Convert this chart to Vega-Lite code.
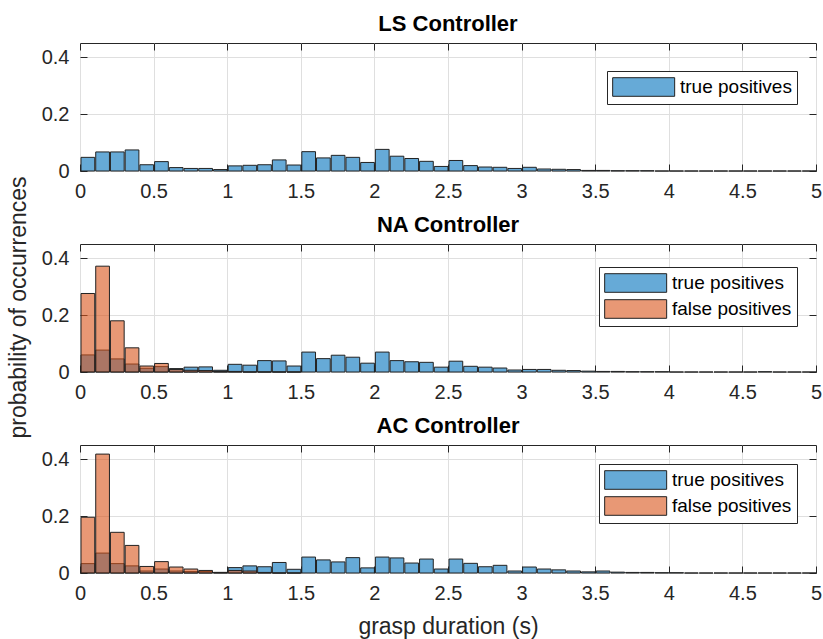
{
 "$schema": "https://vega.github.io/schema/vega-lite/v6.json",
 "padding": {"left": 6, "top": 12, "right": 5, "bottom": 5},
 "spacing": 73,
 "bounds": "flush",
 "datasets": {
  "ls_t": [
   {"b":0,"e":0.1,"v":0.048},{"b":0.1,"e":0.2,"v":0.067},{"b":0.2,"e":0.3,"v":0.067},{"b":0.3,"e":0.4,"v":0.074},{"b":0.4,"e":0.5,"v":0.022},
   {"b":0.5,"e":0.6,"v":0.033},{"b":0.6,"e":0.7,"v":0.012},{"b":0.7,"e":0.8,"v":0.009},{"b":0.8,"e":0.9,"v":0.009},{"b":0.9,"e":1,"v":0.005},
   {"b":1,"e":1.1,"v":0.018},{"b":1.1,"e":1.2,"v":0.020},{"b":1.2,"e":1.3,"v":0.022},{"b":1.3,"e":1.4,"v":0.039},{"b":1.4,"e":1.5,"v":0.021},
   {"b":1.5,"e":1.6,"v":0.068},{"b":1.6,"e":1.7,"v":0.046},{"b":1.7,"e":1.8,"v":0.055},{"b":1.8,"e":1.9,"v":0.048},{"b":1.9,"e":2,"v":0.030},
   {"b":2,"e":2.1,"v":0.076},{"b":2.1,"e":2.2,"v":0.052},{"b":2.2,"e":2.3,"v":0.044},{"b":2.3,"e":2.4,"v":0.034},{"b":2.4,"e":2.5,"v":0.016},
   {"b":2.5,"e":2.6,"v":0.037},{"b":2.6,"e":2.7,"v":0.019},{"b":2.7,"e":2.8,"v":0.014},{"b":2.8,"e":2.9,"v":0.013},{"b":2.9,"e":3,"v":0.009},
   {"b":3,"e":3.1,"v":0.013},{"b":3.1,"e":3.2,"v":0.007},{"b":3.2,"e":3.3,"v":0.006},{"b":3.3,"e":3.4,"v":0.005},{"b":3.4,"e":3.5,"v":0.002},
   {"b":3.5,"e":3.6,"v":0.002},{"b":3.6,"e":3.7,"v":0.001},{"b":3.7,"e":3.8,"v":0.001},{"b":3.8,"e":3.9,"v":0.001},{"b":3.9,"e":4,"v":0},
   {"b":4,"e":4.1,"v":0},{"b":4.1,"e":4.2,"v":0},{"b":4.2,"e":4.3,"v":0},{"b":4.3,"e":4.4,"v":0},{"b":4.4,"e":4.5,"v":0},
   {"b":4.5,"e":4.6,"v":0},{"b":4.6,"e":4.7,"v":0},{"b":4.7,"e":4.8,"v":0},{"b":4.8,"e":4.9,"v":0},{"b":4.9,"e":5,"v":0}
  ],
  "na_t": [
   {"b":0,"e":0.1,"v":0.060},{"b":0.1,"e":0.2,"v":0.077},{"b":0.2,"e":0.3,"v":0.046},{"b":0.3,"e":0.4,"v":0.028},{"b":0.4,"e":0.5,"v":0.013},
   {"b":0.5,"e":0.6,"v":0.019},{"b":0.6,"e":0.7,"v":0.012},{"b":0.7,"e":0.8,"v":0.017},{"b":0.8,"e":0.9,"v":0.018},{"b":0.9,"e":1,"v":0.006},
   {"b":1,"e":1.1,"v":0.027},{"b":1.1,"e":1.2,"v":0.024},{"b":1.2,"e":1.3,"v":0.040},{"b":1.3,"e":1.4,"v":0.039},{"b":1.4,"e":1.5,"v":0.021},
   {"b":1.5,"e":1.6,"v":0.070},{"b":1.6,"e":1.7,"v":0.047},{"b":1.7,"e":1.8,"v":0.059},{"b":1.8,"e":1.9,"v":0.052},{"b":1.9,"e":2,"v":0.031},
   {"b":2,"e":2.1,"v":0.070},{"b":2.1,"e":2.2,"v":0.040},{"b":2.2,"e":2.3,"v":0.036},{"b":2.3,"e":2.4,"v":0.034},{"b":2.4,"e":2.5,"v":0.017},
   {"b":2.5,"e":2.6,"v":0.038},{"b":2.6,"e":2.7,"v":0.020},{"b":2.7,"e":2.8,"v":0.017},{"b":2.8,"e":2.9,"v":0.014},{"b":2.9,"e":3,"v":0.007},
   {"b":3,"e":3.1,"v":0.009},{"b":3.1,"e":3.2,"v":0.009},{"b":3.2,"e":3.3,"v":0.006},{"b":3.3,"e":3.4,"v":0.005},{"b":3.4,"e":3.5,"v":0.003},
   {"b":3.5,"e":3.6,"v":0.002},{"b":3.6,"e":3.7,"v":0.002},{"b":3.7,"e":3.8,"v":0.001},{"b":3.8,"e":3.9,"v":0.001},{"b":3.9,"e":4,"v":0.001},
   {"b":4,"e":4.1,"v":0},{"b":4.1,"e":4.2,"v":0},{"b":4.2,"e":4.3,"v":0},{"b":4.3,"e":4.4,"v":0},{"b":4.4,"e":4.5,"v":0},
   {"b":4.5,"e":4.6,"v":0},{"b":4.6,"e":4.7,"v":0.001},{"b":4.7,"e":4.8,"v":0},{"b":4.8,"e":4.9,"v":0},{"b":4.9,"e":5,"v":0}
  ],
  "na_f": [
   {"b":0,"e":0.1,"v":0.276},{"b":0.1,"e":0.2,"v":0.372},{"b":0.2,"e":0.3,"v":0.180},{"b":0.3,"e":0.4,"v":0.085},{"b":0.4,"e":0.5,"v":0.021},
   {"b":0.5,"e":0.6,"v":0.030},{"b":0.6,"e":0.7,"v":0.009},{"b":0.7,"e":0.8,"v":0.006},{"b":0.8,"e":0.9,"v":0.005},{"b":0.9,"e":1,"v":0.002},
   {"b":1,"e":1.1,"v":0.002},{"b":1.1,"e":1.2,"v":0},{"b":1.2,"e":1.3,"v":0},{"b":1.3,"e":1.4,"v":0},{"b":1.4,"e":1.5,"v":0}
  ],
  "ac_t": [
   {"b":0,"e":0.1,"v":0.033},{"b":0.1,"e":0.2,"v":0.070},{"b":0.2,"e":0.3,"v":0.033},{"b":0.3,"e":0.4,"v":0.025},{"b":0.4,"e":0.5,"v":0.007},
   {"b":0.5,"e":0.6,"v":0.014},{"b":0.6,"e":0.7,"v":0.007},{"b":0.7,"e":0.8,"v":0.005},{"b":0.8,"e":0.9,"v":0.005},{"b":0.9,"e":1,"v":0.002},
   {"b":1,"e":1.1,"v":0.019},{"b":1.1,"e":1.2,"v":0.025},{"b":1.2,"e":1.3,"v":0.022},{"b":1.3,"e":1.4,"v":0.037},{"b":1.4,"e":1.5,"v":0.013},
   {"b":1.5,"e":1.6,"v":0.056},{"b":1.6,"e":1.7,"v":0.046},{"b":1.7,"e":1.8,"v":0.039},{"b":1.8,"e":1.9,"v":0.054},{"b":1.9,"e":2,"v":0.018},
   {"b":2,"e":2.1,"v":0.056},{"b":2.1,"e":2.2,"v":0.053},{"b":2.2,"e":2.3,"v":0.035},{"b":2.3,"e":2.4,"v":0.049},{"b":2.4,"e":2.5,"v":0.014},
   {"b":2.5,"e":2.6,"v":0.049},{"b":2.6,"e":2.7,"v":0.034},{"b":2.7,"e":2.8,"v":0.022},{"b":2.8,"e":2.9,"v":0.027},{"b":2.9,"e":3,"v":0.007},
   {"b":3,"e":3.1,"v":0.021},{"b":3.1,"e":3.2,"v":0.014},{"b":3.2,"e":3.3,"v":0.011},{"b":3.3,"e":3.4,"v":0.007},{"b":3.4,"e":3.5,"v":0.004},
   {"b":3.5,"e":3.6,"v":0.007},{"b":3.6,"e":3.7,"v":0.003},{"b":3.7,"e":3.8,"v":0.002},{"b":3.8,"e":3.9,"v":0.002},{"b":3.9,"e":4,"v":0.001},
   {"b":4,"e":4.1,"v":0.001},{"b":4.1,"e":4.2,"v":0},{"b":4.2,"e":4.3,"v":0},{"b":4.3,"e":4.4,"v":0},{"b":4.4,"e":4.5,"v":0},
   {"b":4.5,"e":4.6,"v":0},{"b":4.6,"e":4.7,"v":0},{"b":4.7,"e":4.8,"v":0},{"b":4.8,"e":4.9,"v":0},{"b":4.9,"e":5,"v":0}
  ],
  "ac_f": [
   {"b":0,"e":0.1,"v":0.196},{"b":0.1,"e":0.2,"v":0.418},{"b":0.2,"e":0.3,"v":0.143},{"b":0.3,"e":0.4,"v":0.097},{"b":0.4,"e":0.5,"v":0.023},
   {"b":0.5,"e":0.6,"v":0.040},{"b":0.6,"e":0.7,"v":0.021},{"b":0.7,"e":0.8,"v":0.014},{"b":0.8,"e":0.9,"v":0.009},{"b":0.9,"e":1,"v":0.002},
   {"b":1,"e":1.1,"v":0.009},{"b":1.1,"e":1.2,"v":0.007},{"b":1.2,"e":1.3,"v":0.002},{"b":1.3,"e":1.4,"v":0},{"b":1.4,"e":1.5,"v":0}
  ]
 },
 "vconcat": [
  {
   "title": "LS Controller",
   "width": 736, "height": 128,
   "resolve": {"axis": {"x": "independent", "y": "independent"}},
   "layer": [
    {
     "data": {"name": "ls_t"},
     "mark": {"type": "bar", "fillOpacity": 0.6, "stroke": "#222222", "strokeWidth": 1},
     "encoding": {
      "x": {"field": "b", "type": "quantitative", "bin": "binned", "scale": {"domain": [0, 5], "nice": false}, "axis": {"values": [0,0.5,1,1.5,2,2.5,3,3.5,4,4.5,5], "format": "~g", "title": null}},
      "x2": {"field": "e"},
      "y": {"field": "v", "type": "quantitative", "scale": {"domain": [0, 0.45], "nice": false}, "axis": {"values": [0, 0.2, 0.4], "format": "~g", "title": "probability of occurrences", "titleY": 264, "titleAnchor": "middle"}},
      "y2": {"datum": 0},
      "color": {"datum": "true positives", "type": "nominal", "scale": {"domain": ["true positives"], "range": ["#0072BD"]}, "legend": {"legendX": 527, "legendY": 28, "encode": {"symbols": {"update": {"fillOpacity": {"value": 0.6}}}}}}
     }
    },
    {
     "data": {"name": "ls_t"},
     "mark": {"type": "bar", "opacity": 0},
     "encoding": {
      "x": {"field": "b", "type": "quantitative", "bin": "binned", "axis": {"orient": "top", "values": [0,0.5,1,1.5,2,2.5,3,3.5,4,4.5,5], "labels": false, "grid": false, "title": null}},
      "x2": {"field": "e"},
      "y": {"field": "v", "type": "quantitative", "axis": {"orient": "right", "values": [0, 0.2, 0.4], "labels": false, "grid": false, "title": null}},
      "y2": {"datum": 0}
     }
    }
   ]
  },
  {
   "title": "NA Controller",
   "width": 736, "height": 128,
   "resolve": {"axis": {"x": "independent", "y": "independent"}},
   "layer": [
    {
     "data": {"name": "na_t"},
     "mark": {"type": "bar", "fillOpacity": 0.6, "stroke": "#222222", "strokeWidth": 1},
     "encoding": {
      "x": {"field": "b", "type": "quantitative", "bin": "binned", "scale": {"domain": [0, 5], "nice": false}, "axis": {"values": [0,0.5,1,1.5,2,2.5,3,3.5,4,4.5,5], "format": "~g", "title": null}},
      "x2": {"field": "e"},
      "y": {"field": "v", "type": "quantitative", "scale": {"domain": [0, 0.45], "nice": false}, "axis": {"values": [0, 0.2, 0.4], "format": "~g", "title": null}},
      "y2": {"datum": 0},
      "color": {"datum": "true positives", "type": "nominal", "scale": {"domain": ["true positives", "false positives"], "range": ["#0072BD", "#D95319"]}, "legend": {"legendX": 519, "legendY": 23, "encode": {"symbols": {"update": {"fillOpacity": {"value": 0.6}}}}}}
     }
    },
    {
     "data": {"name": "na_f"},
     "mark": {"type": "bar", "fillOpacity": 0.6, "stroke": "#222222", "strokeWidth": 1},
     "encoding": {
      "x": {"field": "b", "type": "quantitative", "bin": "binned", "axis": {"orient": "top", "values": [0,0.5,1,1.5,2,2.5,3,3.5,4,4.5,5], "labels": false, "grid": false, "title": null}},
      "x2": {"field": "e"},
      "y": {"field": "v", "type": "quantitative", "axis": {"orient": "right", "values": [0, 0.2, 0.4], "labels": false, "grid": false, "title": null}},
      "y2": {"datum": 0},
      "color": {"datum": "false positives", "type": "nominal"}
     }
    }
   ]
  },
  {
   "title": "AC Controller",
   "width": 736, "height": 128,
   "resolve": {"axis": {"x": "independent", "y": "independent"}},
   "layer": [
    {
     "data": {"name": "ac_t"},
     "mark": {"type": "bar", "fillOpacity": 0.6, "stroke": "#222222", "strokeWidth": 1},
     "encoding": {
      "x": {"field": "b", "type": "quantitative", "bin": "binned", "scale": {"domain": [0, 5], "nice": false}, "axis": {"values": [0,0.5,1,1.5,2,2.5,3,3.5,4,4.5,5], "format": "~g", "title": "grasp duration (s)"}},
      "x2": {"field": "e"},
      "y": {"field": "v", "type": "quantitative", "scale": {"domain": [0, 0.45], "nice": false}, "axis": {"values": [0, 0.2, 0.4], "format": "~g", "title": null}},
      "y2": {"datum": 0},
      "color": {"datum": "true positives", "type": "nominal", "scale": {"domain": ["true positives", "false positives"], "range": ["#0072BD", "#D95319"]}, "legend": {"legendX": 519, "legendY": 19, "encode": {"symbols": {"update": {"fillOpacity": {"value": 0.6}}}}}}
     }
    },
    {
     "data": {"name": "ac_f"},
     "mark": {"type": "bar", "fillOpacity": 0.6, "stroke": "#222222", "strokeWidth": 1},
     "encoding": {
      "x": {"field": "b", "type": "quantitative", "bin": "binned", "axis": {"orient": "top", "values": [0,0.5,1,1.5,2,2.5,3,3.5,4,4.5,5], "labels": false, "grid": false, "title": null}},
      "x2": {"field": "e"},
      "y": {"field": "v", "type": "quantitative", "axis": {"orient": "right", "values": [0, 0.2, 0.4], "labels": false, "grid": false, "title": null}},
      "y2": {"datum": 0},
      "color": {"datum": "false positives", "type": "nominal"}
     }
    }
   ]
  }
 ],
 "resolve": {"scale": {"color": "independent"}, "legend": {"color": "independent"}},
 "config": {
  "font": "Liberation Sans",
  "view": {"stroke": "#262626", "strokeWidth": 1},
  "axis": {
   "domain": false, "grid": true, "gridColor": "#dfdfdf", "gridWidth": 1,
   "tickColor": "#262626", "tickSize": -7, "tickWidth": 1,
   "labelFont": "Liberation Sans", "labelFontSize": 20, "labelColor": "#262626", "labelFlush": false, "labelOverlap": false,
   "titleFont": "Liberation Sans", "titleFontSize": 23, "titleFontWeight": "normal", "titleColor": "#262626"
  },
  "axisX": {"labelPadding": 17, "titlePadding": 12},
  "axisY": {"labelPadding": 18, "titlePadding": 11},
  "title": {"font": "Liberation Sans", "fontSize": 22, "fontWeight": "bold", "color": "#000000", "offset": 7},
  "legend": {
   "orient": "none", "title": null,
   "symbolType": "M-1,-0.9H5V0.9H-1Z", "symbolSize": 427,
   "symbolStrokeColor": "#222222", "symbolStrokeWidth": 1,
   "labelFont": "Liberation Sans", "labelFontSize": 19, "labelColor": "#000000", "labelOffset": 46,
   "strokeColor": "#262626", "fillColor": "#ffffff", "padding": 5, "rowPadding": 2
  }
 }
}
